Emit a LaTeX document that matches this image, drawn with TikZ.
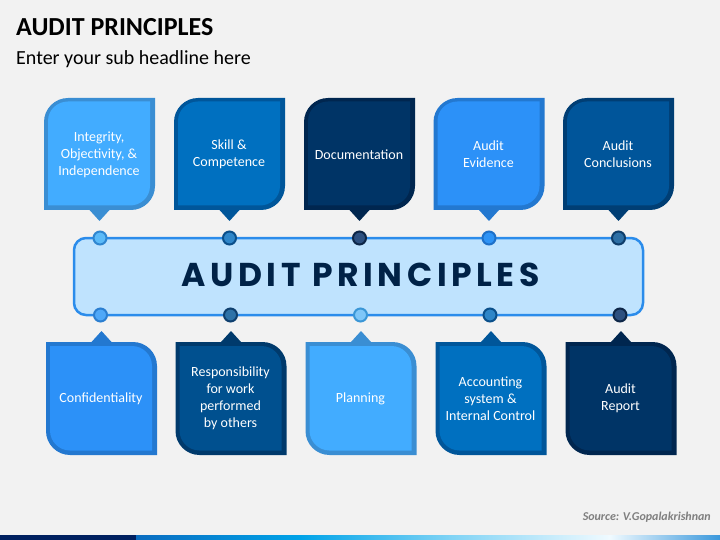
\documentclass[tikz,border=0pt]{standalone}
\usepackage{fontspec}
\setmainfont{Carlito}
\newfontfamily\bannerfont{Poppins}[LetterSpace=14]
\definecolor{bg}{HTML}{F2F2F2}
\definecolor{bannerfill}{HTML}{BFE3FE}
\definecolor{bannerline}{HTML}{2B8CEB}
\definecolor{bannertext}{HTML}{002247}
\definecolor{lbIn}{HTML}{42ACFF}\definecolor{lbOut}{HTML}{3A8ED3}
\definecolor{mbIn}{HTML}{0070C0}\definecolor{mbOut}{HTML}{00569A}
\definecolor{dbIn}{HTML}{003466}\definecolor{dbOut}{HTML}{00264F}
\definecolor{bbIn}{HTML}{2C91F8}\definecolor{bbOut}{HTML}{2378D0}
\definecolor{ebIn}{HTML}{00559A}\definecolor{ebOut}{HTML}{003E74}
\definecolor{rbIn}{HTML}{00508F}\definecolor{rbOut}{HTML}{003A6C}
\definecolor{sourcegray}{HTML}{7F7F7F}
\definecolor{sA}{HTML}{002060}
\definecolor{sB}{HTML}{0A6CC0}
\definecolor{sC}{HTML}{00A3E8}
\definecolor{sD}{HTML}{7FD3F5}
\definecolor{sE}{HTML}{F0FAFF}
\definecolor{sF}{HTML}{3A98DC}
\definecolor{d1f}{HTML}{5BBAF8}\definecolor{d1d}{HTML}{2F86D0}
\definecolor{d2f}{HTML}{2F86C9}\definecolor{d2d}{HTML}{0B4F8A}
\definecolor{d3f}{HTML}{2D5080}\definecolor{d3d}{HTML}{0D2647}
\definecolor{d4f}{HTML}{2E93F5}\definecolor{d4d}{HTML}{1E70C8}
\definecolor{d5f}{HTML}{2D6FA5}\definecolor{d5d}{HTML}{0E3D6A}
\definecolor{e1f}{HTML}{4FA8F8}\definecolor{e1d}{HTML}{2B7ED0}
\definecolor{e2f}{HTML}{2D72A8}\definecolor{e2d}{HTML}{0E3F6E}
\definecolor{e3f}{HTML}{7EC6F8}\definecolor{e3d}{HTML}{3A96D6}
\definecolor{e4f}{HTML}{2E86C8}\definecolor{e4d}{HTML}{0A4F8A}
\definecolor{e5f}{HTML}{2D5080}\definecolor{e5d}{HTML}{0D2647}
\tikzset{
  boxtext/.style={text=white, align=center, font=\fontsize{14}{17}\selectfont, inner sep=0pt},
  dot/.style={circle, minimum size=13pt, inner sep=0pt, line width=2pt},
}
\newcommand\TopBox[5]{% cx, inner, outer, name, text
  \begin{scope}[shift={(#1,0)}]
    \fill[#3] (-55.5,122) .. controls (-55.5,108.8) and (-44.7,98) .. (-31.5,98) -- (55.5,98) -- (55.5,186)
      .. controls (55.5,199.2) and (44.7,210) .. (31.5,210) -- (10,210) -- (0,221) -- (-10,210) -- (-55.5,210) -- cycle;
    \fill[#2] (-51.5,121) .. controls (-51.5,110) and (-42.5,101.5) .. (-31.5,101.5) -- (50.5,101.5) -- (50.5,186)
      .. controls (50.5,197) and (41.5,205.5) .. (30.5,205.5) -- (-51.5,205.5) -- cycle;
    \node[boxtext] (#4) at (-0.5,154.5) {#5};
  \end{scope}}
\newcommand\BotBox[5]{%
  \begin{scope}[shift={(#1,0)}]
    \fill[#3] (-55.5,342) -- (-10,342) -- (0,331) -- (10,342) -- (31.5,342) .. controls (44.7,342) and (55.5,352.8) .. (55.5,366)
      -- (55.5,455) -- (-31.5,455) .. controls (-44.7,455) and (-55.5,444.2) .. (-55.5,431) -- cycle;
    \fill[#2] (-51.5,346) -- (30.5,346) .. controls (41.5,346) and (50.5,355) .. (50.5,366) -- (50.5,450.5)
      -- (-31.5,450.5) .. controls (-42.5,450.5) and (-51.5,441.5) .. (-51.5,430.5) -- cycle;
    \node[boxtext] (#4) at (-0.5,398.5) {#5};
  \end{scope}}
\begin{document}
\begin{tikzpicture}[x=1pt,y=-1pt]
\useasboundingbox (0,0) rectangle (720,540);
\fill[bg] (0,0) rectangle (720,540);
% titles
\node[anchor=base west, inner sep=0pt, font=\fontsize{26}{30}\selectfont\bfseries] (title) at (16,36) {AUDIT PRINCIPLES};
\node[anchor=base west, inner sep=0pt, font=\fontsize{20}{24}\selectfont] (subtitle) at (16,65) {Enter your sub headline here};
% banner
\draw[fill=bannerfill, draw=bannerline, line width=2.5pt, rounded corners=12pt] (74,238) rectangle (643,315);
\node[text=bannertext, font=\bannerfont\bfseries\fontsize{33}{36}\selectfont, inner sep=0pt] (banner) at (360.5,275) {AUDIT PRINCIPLES};
% top boxes
\TopBox{99.5}{lbIn}{lbOut}{t1}{Integrity,\\Objectivity, \&\\Independence}
\TopBox{229.5}{mbIn}{mbOut}{t2}{Skill \&\\Competence}
\TopBox{359.5}{dbIn}{dbOut}{t3}{Documentation}
\TopBox{489}{bbIn}{bbOut}{t4}{Audit\\Evidence}
\TopBox{618.5}{ebIn}{ebOut}{t5}{Audit\\Conclusions}
% bottom boxes
\BotBox{101.5}{bbIn}{bbOut}{b1}{Confidentiality}
\BotBox{231}{rbIn}{rbOut}{b2}{Responsibility\\for work\\performed\\by others}
\BotBox{361}{lbIn}{lbOut}{b3}{Planning}
\BotBox{491}{mbIn}{mbOut}{b4}{Accounting\\system \&\\Internal Control}
\BotBox{621}{dbIn}{dbOut}{b5}{Audit\\Report}
% dots
\node[dot, fill=d1f, draw=d1d] (dt1) at (100,238) {};
\node[dot, fill=d2f, draw=d2d] (dt2) at (229.5,238) {};
\node[dot, fill=d3f, draw=d3d] (dt3) at (359.5,238) {};
\node[dot, fill=d4f, draw=d4d] (dt4) at (489,238) {};
\node[dot, fill=d5f, draw=d5d] (dt5) at (618.5,238) {};
\node[dot, fill=e1f, draw=e1d] (db1) at (100.5,315) {};
\node[dot, fill=e2f, draw=e2d] (db2) at (230.5,315) {};
\node[dot, fill=e3f, draw=e3d] (db3) at (360.5,315) {};
\node[dot, fill=e4f, draw=e4d] (db4) at (490,315) {};
\node[dot, fill=e5f, draw=e5d] (db5) at (620,315) {};
% source
\node[anchor=base east, inner sep=0pt, text=sourcegray, font=\fontsize{12}{14}\selectfont\bfseries\itshape] (source) at (711,520) {Source: V.Gopalakrishnan};
% bottom strip
\fill[sA] (0,535) rectangle (136,540);
\shade[left color=sB, right color=sC] (136,535) rectangle (300,540);
\shade[left color=sC, right color=sD] (299.5,535) rectangle (450,540);
\shade[left color=sD, right color=sE] (449.5,535) rectangle (610,540);
\shade[left color=sE, right color=sF] (609.5,535) rectangle (720,540);
\end{tikzpicture}
\end{document}
